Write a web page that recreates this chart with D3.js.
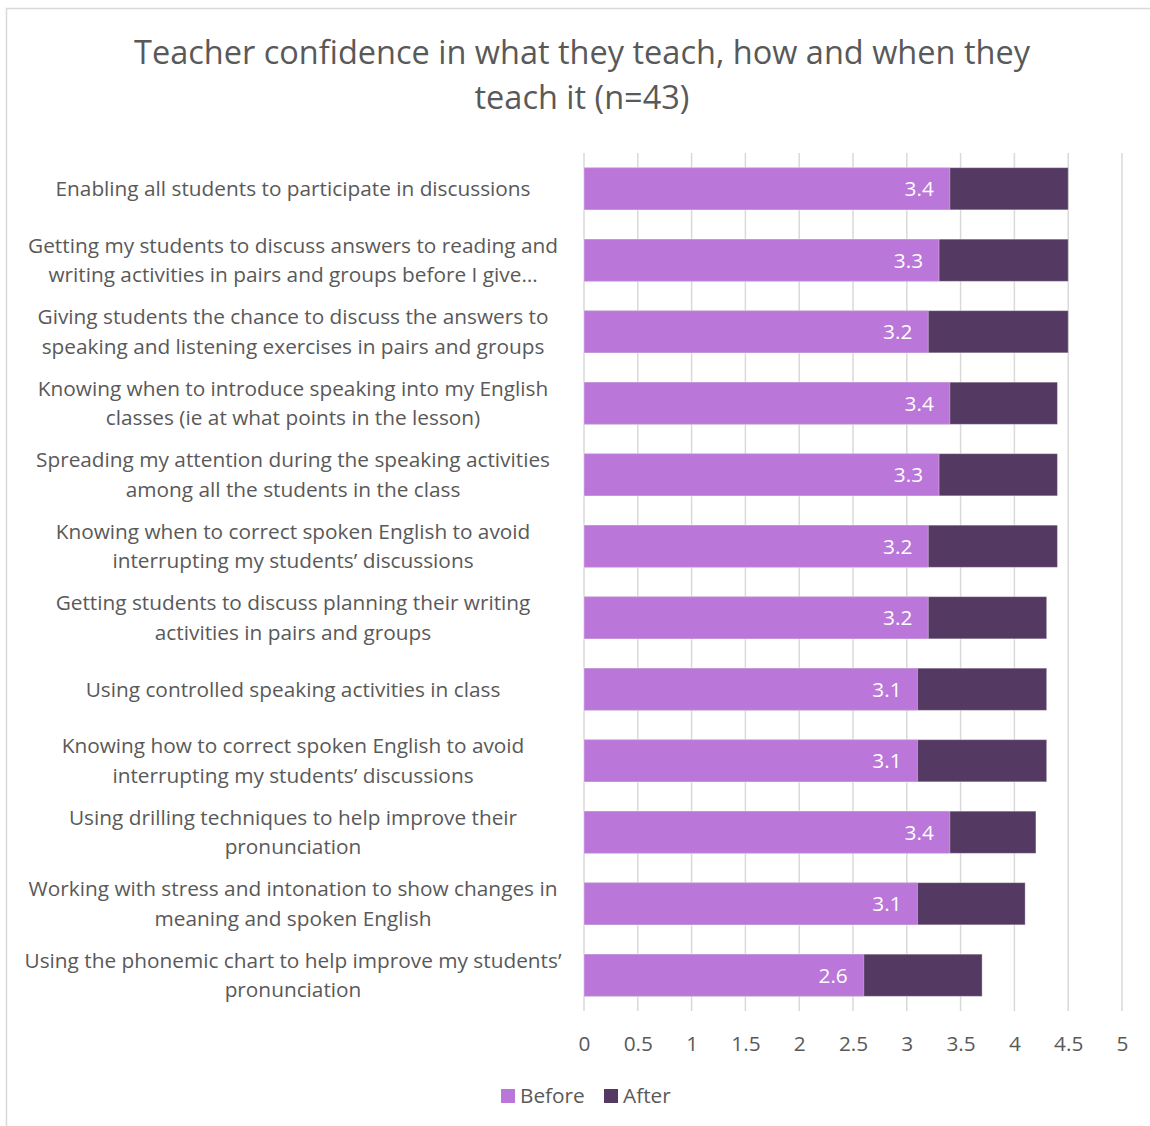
<!DOCTYPE html>
<html>
<head>
<meta charset="utf-8">
<script src="https://cdn.jsdelivr.net/npm/d3@7"></script>
<style>
  html, body { margin: 0; padding: 0; background: #fff; }
  svg { display: block; font-family: "Open Sans", "Noto Sans", sans-serif; }
</style>
</head>
<body>
<svg id="chart" width="1150" height="1126"></svg>
<script>
// Survey items (each entry holds the label lines as they wrap on the axis)
const categories = [
  ["Enabling all students to participate in discussions"],
  ["Getting my students to discuss answers to reading and", "writing activities in pairs and groups before I give…"],
  ["Giving students the chance to discuss the answers to", "speaking and listening exercises in pairs and groups"],
  ["Knowing when to introduce speaking into my English", "classes (ie at what points in the lesson)"],
  ["Spreading my attention during the speaking activities", "among all the students in the class"],
  ["Knowing when to correct spoken English to avoid", "interrupting my students’ discussions"],
  ["Getting students to discuss planning their writing", "activities in pairs and groups"],
  ["Using controlled speaking activities in class"],
  ["Knowing how to correct spoken English to avoid", "interrupting my students’ discussions"],
  ["Using drilling techniques to help improve their", "pronunciation"],
  ["Working with stress and intonation to show changes in", "meaning and spoken English"],
  ["Using the phonemic chart to help improve my students’", "pronunciation"]
];
const beforeValues = [3.4, 3.3, 3.2, 3.4, 3.3, 3.2, 3.2, 3.1, 3.1, 3.4, 3.1, 2.6];
const afterValues  = [4.5, 4.5, 4.5, 4.4, 4.4, 4.4, 4.3, 4.3, 4.3, 4.2, 4.1, 3.7];
const xTicks = [0, 0.5, 1, 1.5, 2, 2.5, 3, 3.5, 4, 4.5, 5];
const seriesNames = ["Before", "After"];
const titleLines = ["Teacher confidence in what they teach, how and when they", "teach it (n=43)"];

const colors = { Before: "#BA76D8", After: "#543963" };
const textColor = "#595959";
const fontSize = 20.8;

const svg = d3.select("#chart");

// outer frame
svg.append("rect")
  .attr("x", 6.5).attr("y", 8.5)
  .attr("width", 1160).attr("height", 1140)
  .attr("fill", "#fff").attr("stroke", "#d9d9d9").attr("stroke-width", 1.5);

// title
svg.append("g").selectAll("text")
  .data(titleLines)
  .join("text")
  .attr("x", 582)
  .attr("y", (d, i) => 64 + i * 45)
  .attr("text-anchor", "middle")
  .attr("font-size", 32.5)
  .attr("fill", textColor)
  .text(d => d);

const plot = { left: 584, right: 1122, top: 153, bottom: 1011 };

const x = d3.scaleLinear().domain([0, 5]).range([plot.left, plot.right]);
const y = d3.scaleBand()
  .domain(d3.range(categories.length))
  .range([plot.top, plot.bottom])
  .paddingInner(0.41)
  .paddingOuter(0.205);

// vertical gridlines
svg.append("g").selectAll("line")
  .data(xTicks)
  .join("line")
  .attr("x1", d => x(d)).attr("x2", d => x(d))
  .attr("y1", plot.top).attr("y2", plot.bottom)
  .attr("stroke", "#d9d9d9").attr("stroke-width", 1.5);

// x axis tick labels
const xAxis = d3.axisBottom(x).tickValues(xTicks).tickSize(0).tickPadding(0)
  .tickFormat(d3.format("~g"));
const gx = svg.append("g")
  .attr("transform", `translate(0, ${plot.bottom + 25})`)
  .call(xAxis);
gx.select(".domain").remove();
gx.selectAll("text")
  .attr("font-size", fontSize)
  .attr("fill", textColor)
  .attr("font-family", "Open Sans, Noto Sans, sans-serif");

// bars: the After total sits behind, Before drawn on top from zero
const rows = categories.map((c, i) => ({ i, before: beforeValues[i], after: afterValues[i] }));
const bars = svg.append("g");
bars.selectAll("rect.after")
  .data(rows)
  .join("rect")
  .attr("class", "after")
  .attr("x", x(0))
  .attr("y", d => y(d.i))
  .attr("width", d => x(d.after) - x(0))
  .attr("height", y.bandwidth())
  .attr("fill", colors.After)
  .attr("stroke", "#fff").attr("stroke-opacity", 0.35).attr("stroke-width", 1);
bars.selectAll("rect.before")
  .data(rows)
  .join("rect")
  .attr("class", "before")
  .attr("x", x(0))
  .attr("y", d => y(d.i))
  .attr("width", d => x(d.before) - x(0))
  .attr("height", y.bandwidth())
  .attr("fill", colors.Before)
  .attr("stroke", "#fff").attr("stroke-opacity", 0.35).attr("stroke-width", 1);

// value labels inside the end of the Before bars
bars.selectAll("text.val")
  .data(rows)
  .join("text")
  .attr("class", "val")
  .attr("x", d => x(d.before) - 16)
  .attr("y", d => y(d.i) + y.bandwidth() / 2)
  .attr("dy", "0.35em")
  .attr("text-anchor", "end")
  .attr("font-size", fontSize)
  .attr("fill", "#fff")
  .text(d => d3.format(".1f")(d.before));

// category labels
const lab = svg.append("g");
categories.forEach((lines, i) => {
  const cy = y(i) + y.bandwidth() / 2;
  const lh = 29.5;
  lines.forEach((ln, j) => {
    lab.append("text")
      .attr("x", 293)
      .attr("y", cy + (j - (lines.length - 1) / 2) * lh)
      .attr("dy", "0.35em")
      .attr("text-anchor", "middle")
      .attr("font-size", fontSize)
      .attr("fill", textColor)
      .text(ln);
  });
});

// legend
const legendX = [501, 604];
const lg = svg.append("g");
seriesNames.forEach((s, i) => {
  lg.append("rect")
    .attr("x", legendX[i]).attr("y", 1089)
    .attr("width", 14).attr("height", 14)
    .attr("fill", colors[s]);
  lg.append("text")
    .attr("x", legendX[i] + 19).attr("y", 1096)
    .attr("dy", "0.35em")
    .attr("font-size", fontSize)
    .attr("fill", textColor)
    .text(s);
});
</script>
</body>
</html>
